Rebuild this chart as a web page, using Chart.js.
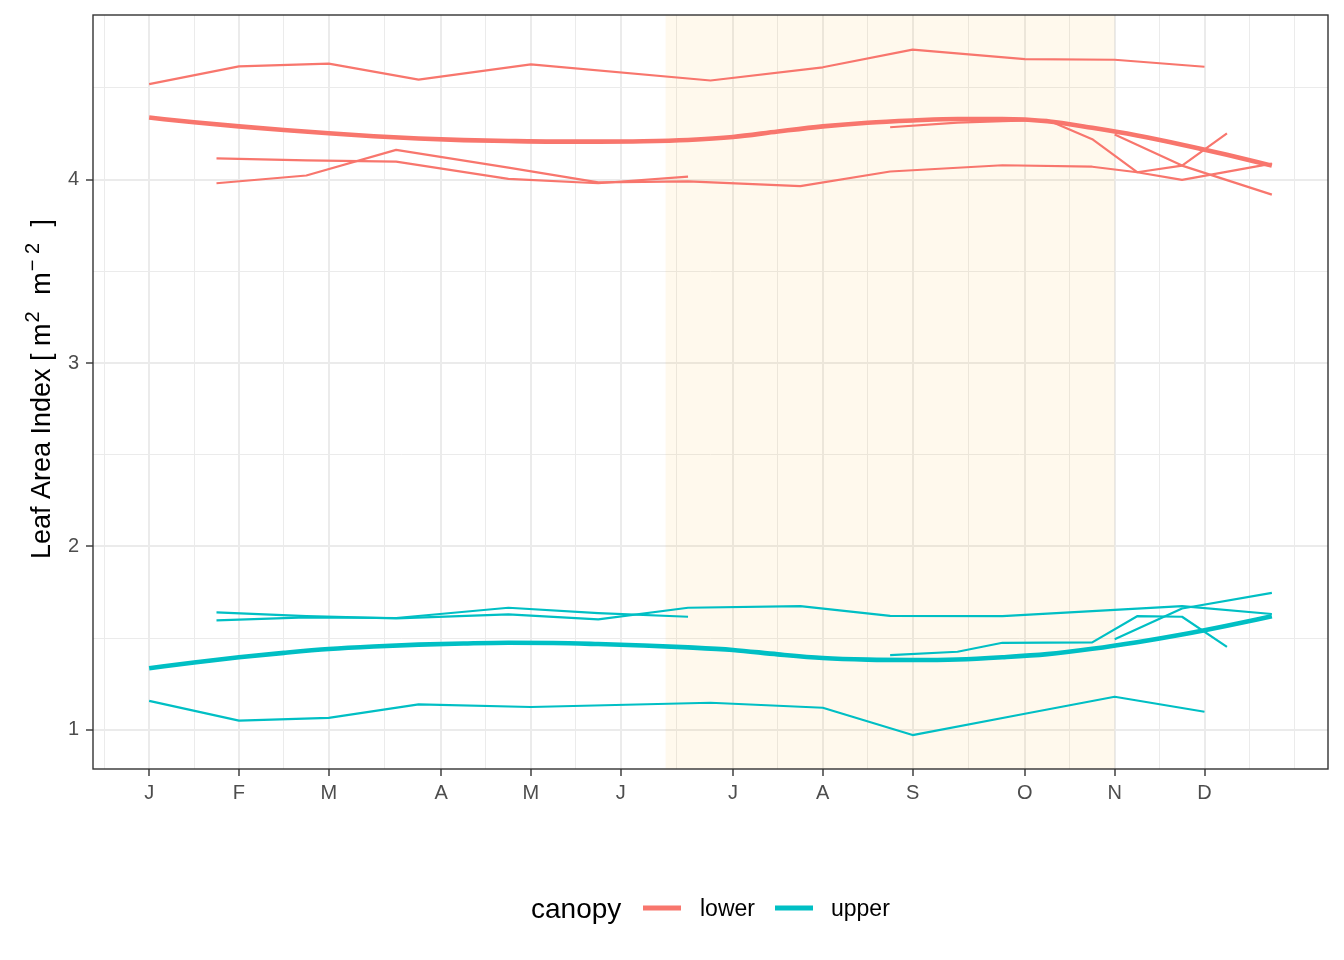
<!DOCTYPE html>
<html>
<head>
<meta charset="utf-8">
<script src="https://cdn.jsdelivr.net/npm/chart.js@4.4.1/dist/chart.umd.min.js"></script>
<style>
html,body{margin:0;padding:0;background:#ffffff;}
#wrap{width:1344px;height:960px;position:relative;}
</style>
</head>
<body>
<div id="wrap"><canvas id="c" width="1344" height="960"></canvas></div>
<script>
// ---------------- data ----------------
const monthLabels = ['J','F','M','A','M','J','J','A','S','O','N','D'];
const monthWeeks  = [1, 5, 9, 14, 18, 22, 27, 31, 35, 40, 44, 48];
const yTickValues = [1, 2, 3, 4];
const shadeWeeks  = [24, 44];
const canopyNames = ['lower', 'upper'];
const legendTitle = 'canopy';
const yTitleMain  = 'Leaf Area Index';

// lower canopy, thin series
const lowerAWeeks = [1, 5, 9, 13, 18, 26, 31, 35, 40, 44, 48];
const lowerA      = [4.52, 4.617, 4.632, 4.545, 4.628, 4.54, 4.612, 4.708, 4.657, 4.653, 4.615];
const lowerBWeeks = [4, 8, 12, 17, 21, 25];
const lowerB      = [4.116, 4.105, 4.098, 4.004, 3.98, 4.016];
const lowerCWeeks = [4, 8, 12, 17, 21, 25, 30, 34, 39, 43, 45, 47, 51];
const lowerC      = [3.98, 4.022, 4.162, 4.065, 3.985, 3.99, 3.964, 4.044, 4.078, 4.07, 4.04, 3.998, 4.087];
const lowerDWeeks = [34, 37, 39, 41, 43, 45, 47, 49];
const lowerD      = [4.285, 4.31, 4.318, 4.325, 4.22, 4.04, 4.076, 4.252];
const lowerEWeeks = [44, 47, 51];
const lowerE      = [4.245, 4.076, 3.918];

// upper canopy, thin series
const upperAWeeks = [1, 5, 9, 13, 18, 26, 31, 35, 40, 44, 48];
const upperA      = [1.158, 1.051, 1.066, 1.139, 1.125, 1.148, 1.121, 0.972, 1.088, 1.181, 1.099];
const upperBWeeks = [4, 8, 12, 17, 21, 25];
const upperB      = [1.597, 1.613, 1.61, 1.666, 1.637, 1.617];
const upperCWeeks = [4, 8, 12, 17, 21, 25, 30, 34, 39, 43, 45, 47, 51];
const upperC      = [1.641, 1.62, 1.608, 1.63, 1.603, 1.666, 1.675, 1.622, 1.62, 1.648, 1.661, 1.675, 1.632];
const upperDWeeks = [34, 37, 39, 41, 43, 45, 47, 49];
const upperD      = [1.408, 1.426, 1.475, 1.476, 1.477, 1.62, 1.617, 1.453];
const upperEWeeks = [44, 47, 51];
const upperE      = [1.494, 1.662, 1.747];

// smooth trend lines (every two weeks)
const smoothWeeks = [1,3,5,7,9,11,13,15,17,19,21,23,25,27,29,31,33,35,37,39,41,43,45,47,49,51];
const lowerSmooth = [4.338,4.312,4.290,4.270,4.252,4.236,4.224,4.215,4.210,4.207,4.207,4.209,4.216,4.232,4.262,4.290,4.310,4.322,4.330,4.330,4.318,4.282,4.240,4.190,4.135,4.076];
const upperSmooth = [1.336,1.368,1.396,1.420,1.441,1.455,1.465,1.471,1.475,1.474,1.468,1.460,1.450,1.436,1.412,1.392,1.383,1.381,1.384,1.396,1.413,1.442,1.478,1.520,1.568,1.620];

// ---------------- styling ----------------
const COL = { lower: '#F8766D', upper: '#00BFC4' };
const FONT = "'Liberation Sans', Arial, Helvetica, sans-serif";
const THIN = 2.2, THICK = 4.6;

function pts(w, v) { return w.map((x, i) => ({ x: x, y: v[i] })); }
function thin(w, v, canopy) {
  return { data: pts(w, v), borderColor: COL[canopy], borderWidth: THIN, pointRadius: 0,
           fill: false, tension: 0, borderJoinStyle: 'round', canopy: canopy };
}
function thick(w, v, canopy) {
  return { data: pts(w, v), borderColor: COL[canopy], borderWidth: THICK, pointRadius: 0,
           fill: false, cubicInterpolationMode: 'monotone', borderJoinStyle: 'round', canopy: canopy };
}

// minor breaks midway between major breaks (ggplot style, extended one step each side)
function minorBreaks(b) {
  const d = b[1] - b[0];
  const ext = [b[0] - d].concat(b, [b[b.length - 1] + d]);
  const out = [];
  for (let i = 0; i < ext.length - 1; i++) out.push((ext[i] + ext[i + 1]) / 2);
  out.push(ext[ext.length - 1]);
  return out;
}
const xMinor = minorBreaks(monthWeeks);
const yMinor = minorBreaks(yTickValues);

const xMin = -1.5, xMax = 53.5, yMin = 0.787, yMax = 4.897;

const shadePlugin = {
  id: 'shade',
  beforeDatasetsDraw(chart) {
    const { ctx, chartArea: a, scales: { x } } = chart;
    const x0 = x.getPixelForValue(shadeWeeks[0]);
    const x1 = x.getPixelForValue(shadeWeeks[1]);
    ctx.save();
    ctx.fillStyle = 'rgba(255,165,0,0.07)';
    ctx.fillRect(x0, a.top, x1 - x0, a.bottom - a.top);
    ctx.restore();
  }
};

const decorPlugin = {
  id: 'decor',
  afterDraw(chart) {
    const { ctx, chartArea: a } = chart;
    ctx.save();
    // panel border
    ctx.strokeStyle = '#333333';
    ctx.lineWidth = 1.4;
    ctx.strokeRect(a.left, a.top, a.right - a.left, a.bottom - a.top);

    // y axis title with superscripts
    const runs = [
      { t: yTitleMain + ' [ m', sup: false, gap: 1 },
      { t: '2', sup: true, gap: 9 },
      { t: ' m', sup: false, gap: 1 },
      { t: '\u2212 2', sup: true, gap: 9 },
      { t: ' ]', sup: false, gap: 0 }
    ];
    const mainF = '27px ' + FONT, supF = '20px ' + FONT;
    let total = 0;
    runs.forEach(r => { ctx.font = r.sup ? supF : mainF; r.w = ctx.measureText(r.t).width + r.gap; total += r.w; });
    ctx.translate(50, (a.top + a.bottom) / 2 - 3);
    ctx.rotate(-Math.PI / 2);
    ctx.fillStyle = '#000000';
    ctx.textBaseline = 'alphabetic';
    ctx.textAlign = 'left';
    let cx = -total / 2;
    runs.forEach(r => {
      ctx.font = r.sup ? supF : mainF;
      ctx.fillText(r.t, cx, r.sup ? -11 : 0);
      cx += r.w;
    });
    ctx.restore();

    // legend
    ctx.save();
    ctx.fillStyle = '#000000';
    ctx.textBaseline = 'alphabetic';
    ctx.textAlign = 'left';
    ctx.font = '28px ' + FONT;
    ctx.fillText(legendTitle, 531, 918);
    const keys = [
      { x: 643, tx: 700, name: canopyNames[0] },
      { x: 775, tx: 831, name: canopyNames[1] }
    ];
    keys.forEach(k => {
      ctx.strokeStyle = COL[k.name];
      ctx.lineWidth = 5;
      ctx.lineCap = 'butt';
      ctx.beginPath();
      ctx.moveTo(k.x, 908);
      ctx.lineTo(k.x + 38, 908);
      ctx.stroke();
      ctx.fillStyle = '#000000';
      ctx.font = '23px ' + FONT;
      ctx.fillText(k.name, k.tx, 916);
    });
    ctx.restore();
  }
};

const datasets = [
  thin(lowerAWeeks, lowerA, 'lower'),
  thin(lowerBWeeks, lowerB, 'lower'),
  thin(lowerCWeeks, lowerC, 'lower'),
  thin(lowerDWeeks, lowerD, 'lower'),
  thin(lowerEWeeks, lowerE, 'lower'),
  thin(upperAWeeks, upperA, 'upper'),
  thin(upperBWeeks, upperB, 'upper'),
  thin(upperCWeeks, upperC, 'upper'),
  thin(upperDWeeks, upperD, 'upper'),
  thin(upperEWeeks, upperE, 'upper'),
  thick(smoothWeeks, lowerSmooth, 'lower'),
  thick(smoothWeeks, upperSmooth, 'upper')
];

function isMajorX(v) { return monthWeeks.indexOf(v) >= 0; }
function isMajorY(v) { return yTickValues.indexOf(v) >= 0; }

new Chart(document.getElementById('c'), {
  type: 'line',
  data: { datasets: datasets },
  options: {
    responsive: false,
    animation: false,
    parsing: false,
    normalized: true,
    layout: { padding: { left: 0, top: 15, right: 16, bottom: 0 } },
    plugins: { legend: { display: false }, tooltip: { enabled: false }, title: { display: false } },
    scales: {
      x: {
        type: 'linear', min: xMin, max: xMax,
        afterBuildTicks(s) {
          const all = monthWeeks.concat(xMinor).sort((a, b) => a - b);
          s.ticks = all.map(v => ({ value: v }));
        },
        afterFit(s) { s.height = 191; s.paddingLeft = 0; s.paddingRight = 0; },
        border: { display: false },
        grid: {
          color: '#EBEBEB',
          lineWidth: c => (c.tick && isMajorX(c.tick.value)) ? 2 : 1,
          drawTicks: true,
          tickLength: 7,
          tickWidth: 1.4,
          tickColor: c => (c.tick && isMajorX(c.tick.value)) ? '#333333' : 'rgba(0,0,0,0)'
        },
        ticks: {
          autoSkip: false, maxRotation: 0, minRotation: 0, padding: 5,
          color: '#4D4D4D', font: { family: FONT, size: 20 },
          callback: v => { const i = monthWeeks.indexOf(v); return i >= 0 ? monthLabels[i] : ''; }
        }
      },
      y: {
        type: 'linear', min: yMin, max: yMax,
        afterBuildTicks(s) {
          const all = yTickValues.concat(yMinor).filter(v => v > yMin && v < yMax).sort((a, b) => a - b);
          s.ticks = all.map(v => ({ value: v }));
        },
        afterFit(s) { s.width = 93; s.paddingTop = 0; s.paddingBottom = 0; },
        border: { display: false },
        grid: {
          color: '#EBEBEB',
          lineWidth: c => (c.tick && isMajorY(c.tick.value)) ? 2 : 1,
          drawTicks: true,
          tickLength: 7,
          tickWidth: 1.4,
          tickColor: c => (c.tick && isMajorY(c.tick.value)) ? '#333333' : 'rgba(0,0,0,0)'
        },
        ticks: {
          autoSkip: false, padding: 7,
          color: '#4D4D4D', font: { family: FONT, size: 20 },
          callback: v => isMajorY(v) ? String(v) : ''
        }
      }
    }
  },
  plugins: [shadePlugin, decorPlugin]
});
</script>
</body>
</html>
